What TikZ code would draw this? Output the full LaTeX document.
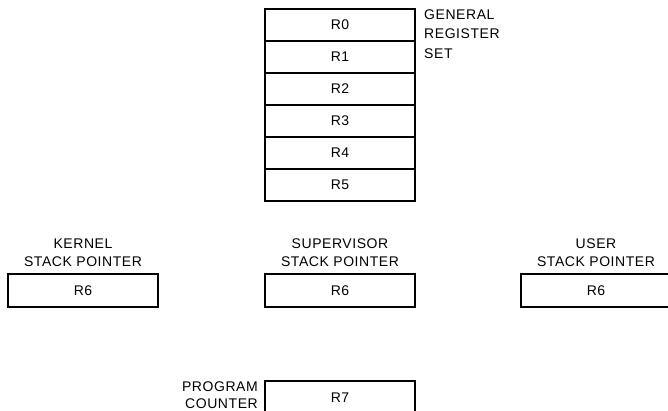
\documentclass[tikz,border=0pt]{standalone}
\usepackage{fontspec}
\setmainfont{Liberation Sans}[LetterSpace=4]
\usetikzlibrary{positioning}

\begin{document}
\begin{tikzpicture}[x=1pt,y=-1pt,
  reg/.style={draw,line width=1.1pt,outer sep=0pt,inner sep=0pt,minimum width=150pt,minimum height=32pt,font=\fontsize{14}{18}\selectfont},
  lbl/.style={inner sep=0pt,align=center,font=\fontsize{14}{18}\selectfont}]
\clip(0,0)rectangle(668,411);
% general register set
\node[reg](r0)at(340,25){R0};
\foreach \i[count=\j from 0] in {1,...,5}{\node[reg,below=0pt of r\j](r\i){R\i};}
\node[lbl,align=left,anchor=north west,font=\fontsize{14}{19.5}\selectfont](grs)at([xshift=9pt,yshift=-0.5pt]r0.north east){GENERAL\\REGISTER\\SET};
% stack pointers
\node[reg,minimum height=33pt](ksp)at(83,290.5){R6};
\node[reg,minimum height=33pt](ssp)at(340,290.5){R6};
\node[reg,minimum height=33pt](usp)at(596,290.5){R6};
\node[lbl,above=7.5pt of ksp](ksplbl){KERNEL\\STACK POINTER};
\node[lbl,above=7.5pt of ssp](ssplbl){SUPERVISOR\\STACK POINTER};
\node[lbl,above=7.5pt of usp](usplbl){USER\\STACK POINTER};
% program counter
\node[reg,minimum height=33pt](pc)at(340,397.5){R7};
\node[lbl,align=right,anchor=north east,font=\fontsize{14}{17}\selectfont](pclbl)at([xshift=-7pt,yshift=-0.5pt]pc.north west){PROGRAM\\COUNTER};
\end{tikzpicture}
\end{document}
